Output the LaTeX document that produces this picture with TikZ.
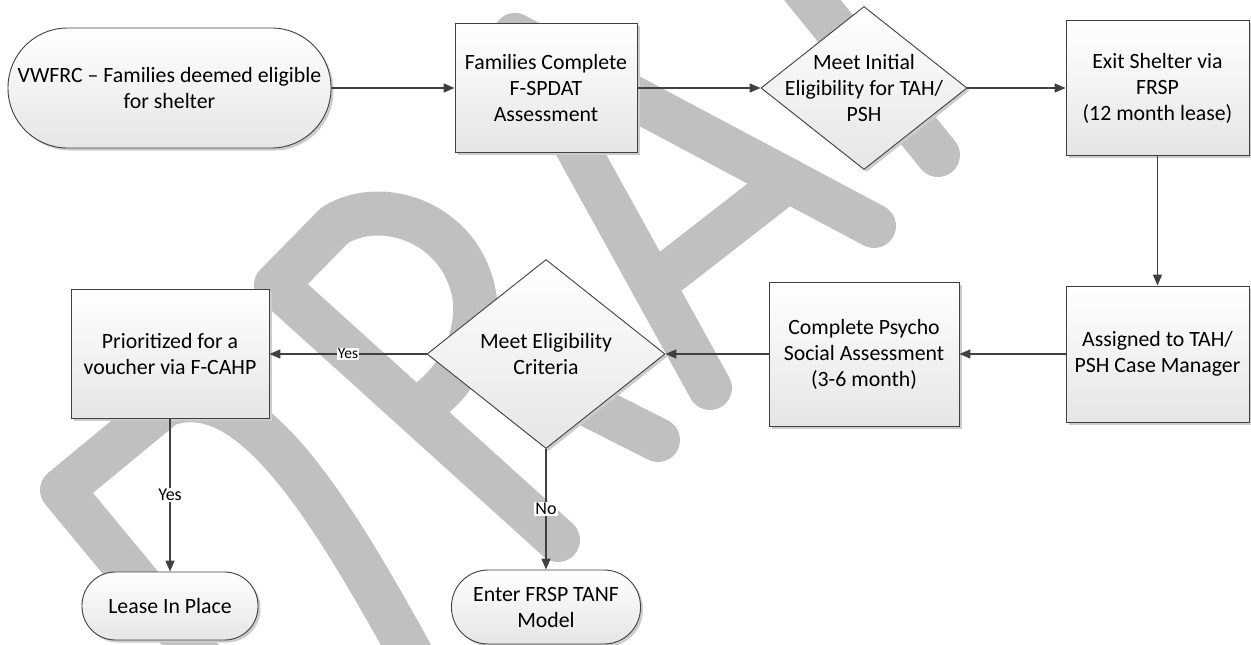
\documentclass[tikz,border=0pt]{standalone}
\usepackage{fontspec}
\setmainfont{Carlito}
\usetikzlibrary{shapes.geometric,arrows.meta,shadows}
\definecolor{wm}{RGB}{192,192,192}
\definecolor{ln}{RGB}{64,64,64}
\newcommand\mainsz{\fontsize{21.8}{26}\selectfont}
\newcommand\smallsz{\fontsize{15.5}{18}\selectfont}
\newcommand\labsz{\fontsize{18}{21}\selectfont}
\begin{document}
\begin{tikzpicture}[x=1pt,y=-1pt,
  box/.style={draw=ln, line width=0.9pt, top color=white, bottom color=black!10,
    drop shadow={shadow xshift=2.5pt,shadow yshift=-2.5pt,fill=black!20,opacity=1},
    inner sep=0pt, align=center, font=\mainsz},
  rect/.style={box, rectangle},
  term/.style={box, rectangle},
  dec/.style={box, diamond},
  txt/.style={inner sep=0pt, align=center, font=\mainsz},
  arr/.style={draw=ln, line width=1.5pt, -{Triangle[length=11pt,width=9pt]}},
  lbl/.style={fill=white, inner sep=1pt, text=black},
  wmk/.style={draw=wm, line width=44pt, line cap=round, line join=round}]
\useasboundingbox (0,0) rectangle (1251,645);
% watermark
\begin{scope}
\clip (0,0) rectangle (1251,645);
\draw[wmk] (240,705) -- (62,490) -- (165,405) .. controls (245,375) and (320,490) .. (406,645) -- (445,715);
\draw[wmk] (558,540) -- (276,285) -- (335,225) .. controls (385,195) and (465,225) .. (475,300) .. controls (478,350) and (450,390) .. (415,410);
\draw[wmk] (470,345) -- (658,440);
\draw[wmk] (710,388) -- (515,35) -- (874,226);
\draw[wmk] (788,180) -- (653,285);
\draw[wmk] (780,-40) -- (938,155);
\end{scope}
% nodes
\node[term, rounded corners=59.5pt, minimum width=323pt, minimum height=120pt] (s1) at (169.5,88) {VWFRC – Families deemed eligible\\for shelter};
\node[rect, minimum width=182pt, minimum height=129pt] (b2) at (546,88) {Families Complete\\F-SPDAT\\Assessment};
\node[dec, minimum width=206pt, minimum height=163pt] (d1) at (864,88) {};
\node[txt] (d1t) at (d1.center) {Meet Initial\\Eligibility for TAH/\\PSH};
\node[rect, minimum width=183pt, minimum height=135pt] (b3) at (1157.5,88) {Exit Shelter via\\FRSP\\(12 month lease)};
\node[rect, minimum width=183pt, minimum height=136pt] (b4) at (1157.5,354) {Assigned to TAH/\\PSH Case Manager};
\node[rect, minimum width=190pt, minimum height=144pt] (b5) at (864,354) {Complete Psycho\\Social Assessment\\(3-6 month)};
\node[dec, minimum width=238pt, minimum height=189pt] (d2) at (546,354) {};
\node[txt] (d2t) at (d2.center) {Meet Eligibility\\Criteria};
\node[rect, minimum width=198pt, minimum height=129pt] (b6) at (170,354) {Prioritized for a\\voucher via F-CAHP};
\node[term, rounded corners=33.5pt, minimum width=176pt, minimum height=68pt] (s2) at (170,606) {Lease In Place};
\node[term, rounded corners=36.5pt, minimum width=189pt, minimum height=74pt] (s3) at (546,607) {Enter FRSP TANF\\Model};
% connectors
\draw[arr] (s1.east) -- (b2.west);
\draw[arr] (b2.east) -- (d1.west);
\draw[arr] (d1.east) -- (b3.west);
\draw[arr] (b3.south) -- (b4.north);
\draw[arr] (b4.west) -- (b5.east);
\draw[arr] (b5.west) -- (d2.east);
\draw[arr] (d2.west) -- node[lbl, font=\smallsz] (ly1) {Yes} (b6.east);
\draw[arr] (b6.south) -- node[lbl, font=\labsz] (ly2) {Yes} (s2.north);
\draw[arr] (d2.south) -- node[lbl, font=\labsz] (ln1) {No} (s3.north);
\end{tikzpicture}
\end{document}
